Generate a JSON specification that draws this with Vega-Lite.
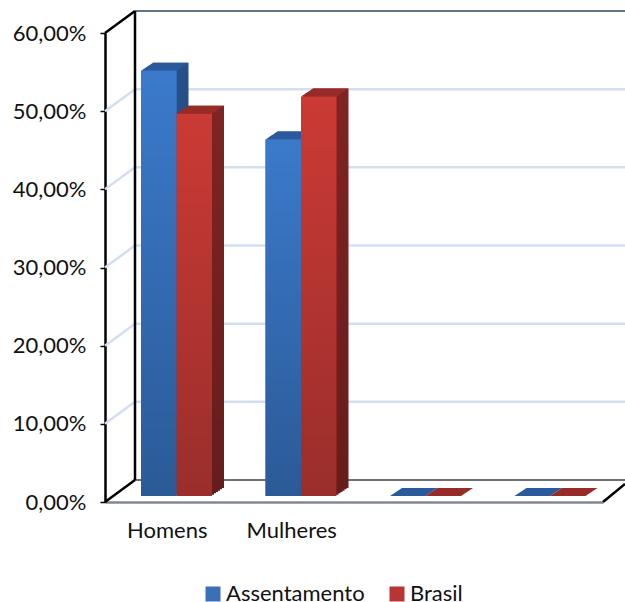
{
"$schema":"https://vega.github.io/schema/vega-lite/v6.json",
"width":498,"height":469,
"autosize":{"type":"none"},
"padding":{"left":105,"top":33,"right":22,"bottom":100},
"background":"white",
"config":{"view":{"stroke":null},"font":"Lato"},
"datasets":{
"bars":[
{"categoria":"Homens","serie":"Assentamento","valor":54.4},
{"categoria":"Homens","serie":"Brasil","valor":48.9},
{"categoria":"Mulheres","serie":"Assentamento","valor":45.6},
{"categoria":"Mulheres","serie":"Brasil","valor":51.1},
{"categoria":" ","serie":"Assentamento","valor":0},
{"categoria":" ","serie":"Brasil","valor":0},
{"categoria":"  ","serie":"Assentamento","valor":0},
{"categoria":"  ","serie":"Brasil","valor":0}
],
"ticks":[{"v":0},{"v":10},{"v":20},{"v":30},{"v":40},{"v":50},{"v":60}]
},
"layer":[
{"data":{"name":"ticks"},"transform":[{"filter":"datum.v>0 && datum.v<60"}],
 "mark":{"type":"rule","color":"#d3dff0","strokeWidth":2.5,"xOffset":30,"x2Offset":30,"yOffset":-22},
 "encoding":{"x":{"value":0},"x2":{"value":498},"y":{"field":"v","type":"quantitative","scale":{"domain":[0,60]},
   "axis":{"title":null,"values":[0,10,20,30,40,50,60],"labelExpr":"replace(format(datum.value,'.2f'),'.',',')+'%'","labelFont":"Lato","labelFontSize":22,"labelColor":"#111","labelPadding":14,"domainColor":"#000","domainWidth":2.5,"tickColor":"#000","tickWidth":1.5,"tickSize":5,"grid":false}}}},
{"data":{"name":"ticks"},"transform":[{"filter":"datum.v>0 && datum.v<60"}],
 "mark":{"type":"point","shape":"M0,0L30,-22","size":4,"filled":false,"stroke":"#d3dff0","strokeWidth":2.5,"opacity":1},
 "encoding":{"x":{"value":0},"y":{"field":"v","type":"quantitative"}}},
{"data":{"name":"ticks"},"transform":[{"filter":"datum.v==60"}],
 "mark":{"type":"rule","color":"#2e4560","strokeWidth":1.5,"xOffset":30,"x2Offset":30,"yOffset":-22},
 "encoding":{"x":{"value":0},"x2":{"value":498},"y":{"field":"v","type":"quantitative"}}},
{"data":{"name":"ticks"},"transform":[{"filter":"datum.v==0"}],
 "mark":{"type":"rule","color":"#707070","strokeWidth":2,"xOffset":30,"x2Offset":30,"yOffset":-22},
 "encoding":{"x":{"value":0},"x2":{"value":498},"y":{"field":"v","type":"quantitative"}}},
{"data":{"name":"ticks"},"transform":[{"filter":"datum.v==0 || datum.v==60"}],
 "mark":{"type":"point","shape":"M0,0L30,-22","size":4,"filled":false,"stroke":"#000","strokeWidth":2.5,"opacity":1},
 "encoding":{"x":{"value":0},"y":{"field":"v","type":"quantitative"}}},
{"data":{"name":"ticks"},"transform":[{"filter":"datum.v==0"}],
 "mark":{"type":"point","shape":"M0,0L22,-18","size":4,"filled":false,"stroke":"#000","strokeWidth":2.5,"opacity":1},
 "encoding":{"x":{"value":498},"y":{"field":"v","type":"quantitative"}}},
{"data":{"values":[{"a":0,"b":60}]},
 "mark":{"type":"rule","color":"#000","strokeWidth":2.5,"xOffset":30,"yOffset":-22,"y2Offset":-22},
 "encoding":{"x":{"value":0},"y":{"field":"a","type":"quantitative"},"y2":{"field":"b"}}},
{"data":{"name":"bars"},
 "encoding":{
  "x":{"field":"categoria","type":"nominal","sort":null,"scale":{"domain":["Homens","Mulheres"," ","  "],"paddingInner":0.43,"paddingOuter":0.215},
    "axis":{"title":null,"labelAngle":0,"labelFont":"Lato","labelFontSize":22,"labelColor":"#111","labelPadding":18,"domainColor":"#808890","domainWidth":2.5,"ticks":false}},
  "y":{"field":"valor","type":"quantitative"}
 },
 "layer":[
  {"transform":[{"filter":"datum.serie=='Assentamento'"}],
   "layer":[
    {"mark":{"type":"bar","width":35.5,"xOffset":3.5,"yOffset":-14,"y2Offset":-14,"fill":{"x1":0,"y1":0,"x2":0,"y2":1,"gradient":"linear","stops":[{"offset":0,"color":"#27508a"},{"offset":1,"color":"#1f4274"}]}}},
    {"mark":{"type":"bar","width":35.5,"xOffset":1.5,"yOffset":-12.7,"y2Offset":-12.7,"fill":{"x1":0,"y1":0,"x2":0,"y2":1,"gradient":"linear","stops":[{"offset":0,"color":"#27508a"},{"offset":1,"color":"#1f4274"}]}}},
    {"mark":{"type":"bar","width":35.5,"xOffset":-0.5,"yOffset":-11.3,"y2Offset":-11.3,"fill":{"x1":0,"y1":0,"x2":0,"y2":1,"gradient":"linear","stops":[{"offset":0,"color":"#27508a"},{"offset":1,"color":"#1f4274"}]}}},
    {"mark":{"type":"bar","width":35.5,"xOffset":-2.5,"yOffset":-10,"y2Offset":-10,"fill":{"x1":0,"y1":0,"x2":0,"y2":1,"gradient":"linear","stops":[{"offset":0,"color":"#27508a"},{"offset":1,"color":"#1f4274"}]}}},
    {"mark":{"type":"bar","width":35.5,"xOffset":-4.5,"yOffset":-8.7,"y2Offset":-8.7,"fill":{"x1":0,"y1":0,"x2":0,"y2":1,"gradient":"linear","stops":[{"offset":0,"color":"#27508a"},{"offset":1,"color":"#1f4274"}]}}},
    {"mark":{"type":"bar","width":35.5,"xOffset":-6.5,"yOffset":-7.3,"y2Offset":-7.3,"fill":{"x1":0,"y1":0,"x2":0,"y2":1,"gradient":"linear","stops":[{"offset":0,"color":"#27508a"},{"offset":1,"color":"#1f4274"}]}}},
    {"mark":{"type":"point","shape":"M-17.75,0L17.75,0L29.75,-8L-5.75,-8Z","size":4,"filled":true,"fill":"#2a5a9c","strokeWidth":0,"opacity":1,"xOffset":-8.5,"yOffset":-6}},
    {"mark":{"type":"bar","width":35.5,"xOffset":-8.5,"yOffset":-6,"y2Offset":-6},
     "encoding":{"color":{"field":"serie","type":"nominal","scale":{"domain":["Assentamento","Brasil"],"range":["#3a70b8","#b93533"]},
       "legend":{"title":null,"orient":"none","legendX":97,"legendY":550,"direction":"horizontal","columns":2,"symbolType":"square","symbolSize":225,"symbolStrokeWidth":0,"labelFont":"Lato","labelFontSize":22,"labelColor":"#111","labelOffset":2,"columnPadding":21,
        "encoding":{"symbols":{"update":{"fill":{"signal":"datum.value=='Brasil'?{gradient:'linear',x1:0,y1:0,x2:0,y2:1,stops:[{offset:0,color:'#cb3a35'},{offset:1,color:'#9a2e2b'}]}:{gradient:'linear',x1:0,y1:0,x2:0,y2:1,stops:[{offset:0,color:'#3b7acb'},{offset:1,color:'#2b5a97'}]}"}}}}}}}},
    {"mark":{"type":"bar","width":35.5,"xOffset":-8.5,"yOffset":-6,"y2Offset":-6,"fill":{"x1":0,"y1":0,"x2":0,"y2":1,"gradient":"linear","stops":[{"offset":0,"color":"#3b7acb"},{"offset":1,"color":"#2b5a97"}]}}}
   ]},
  {"transform":[{"filter":"datum.serie=='Brasil'"}],
   "layer":[
    {"mark":{"type":"bar","width":35.5,"xOffset":39,"yOffset":-14,"y2Offset":-14,"fill":{"x1":0,"y1":0,"x2":0,"y2":1,"gradient":"linear","stops":[{"offset":0,"color":"#7f2422"},{"offset":1,"color":"#671c1c"}]}}},
    {"mark":{"type":"bar","width":35.5,"xOffset":37,"yOffset":-12.7,"y2Offset":-12.7,"fill":{"x1":0,"y1":0,"x2":0,"y2":1,"gradient":"linear","stops":[{"offset":0,"color":"#7f2422"},{"offset":1,"color":"#671c1c"}]}}},
    {"mark":{"type":"bar","width":35.5,"xOffset":35,"yOffset":-11.3,"y2Offset":-11.3,"fill":{"x1":0,"y1":0,"x2":0,"y2":1,"gradient":"linear","stops":[{"offset":0,"color":"#7f2422"},{"offset":1,"color":"#671c1c"}]}}},
    {"mark":{"type":"bar","width":35.5,"xOffset":33,"yOffset":-10,"y2Offset":-10,"fill":{"x1":0,"y1":0,"x2":0,"y2":1,"gradient":"linear","stops":[{"offset":0,"color":"#7f2422"},{"offset":1,"color":"#671c1c"}]}}},
    {"mark":{"type":"bar","width":35.5,"xOffset":31,"yOffset":-8.7,"y2Offset":-8.7,"fill":{"x1":0,"y1":0,"x2":0,"y2":1,"gradient":"linear","stops":[{"offset":0,"color":"#7f2422"},{"offset":1,"color":"#671c1c"}]}}},
    {"mark":{"type":"bar","width":35.5,"xOffset":29,"yOffset":-7.3,"y2Offset":-7.3,"fill":{"x1":0,"y1":0,"x2":0,"y2":1,"gradient":"linear","stops":[{"offset":0,"color":"#7f2422"},{"offset":1,"color":"#671c1c"}]}}},
    {"mark":{"type":"point","shape":"M-17.75,0L17.75,0L29.75,-8L-5.75,-8Z","size":4,"filled":true,"fill":"#962b27","strokeWidth":0,"opacity":1,"xOffset":27,"yOffset":-6}},
    {"mark":{"type":"bar","width":35.5,"xOffset":27,"yOffset":-6,"y2Offset":-6,"fill":{"x1":0,"y1":0,"x2":0,"y2":1,"gradient":"linear","stops":[{"offset":0,"color":"#cb3a35"},{"offset":1,"color":"#9a2e2b"}]}}}
   ]}
 ]}
]
}
